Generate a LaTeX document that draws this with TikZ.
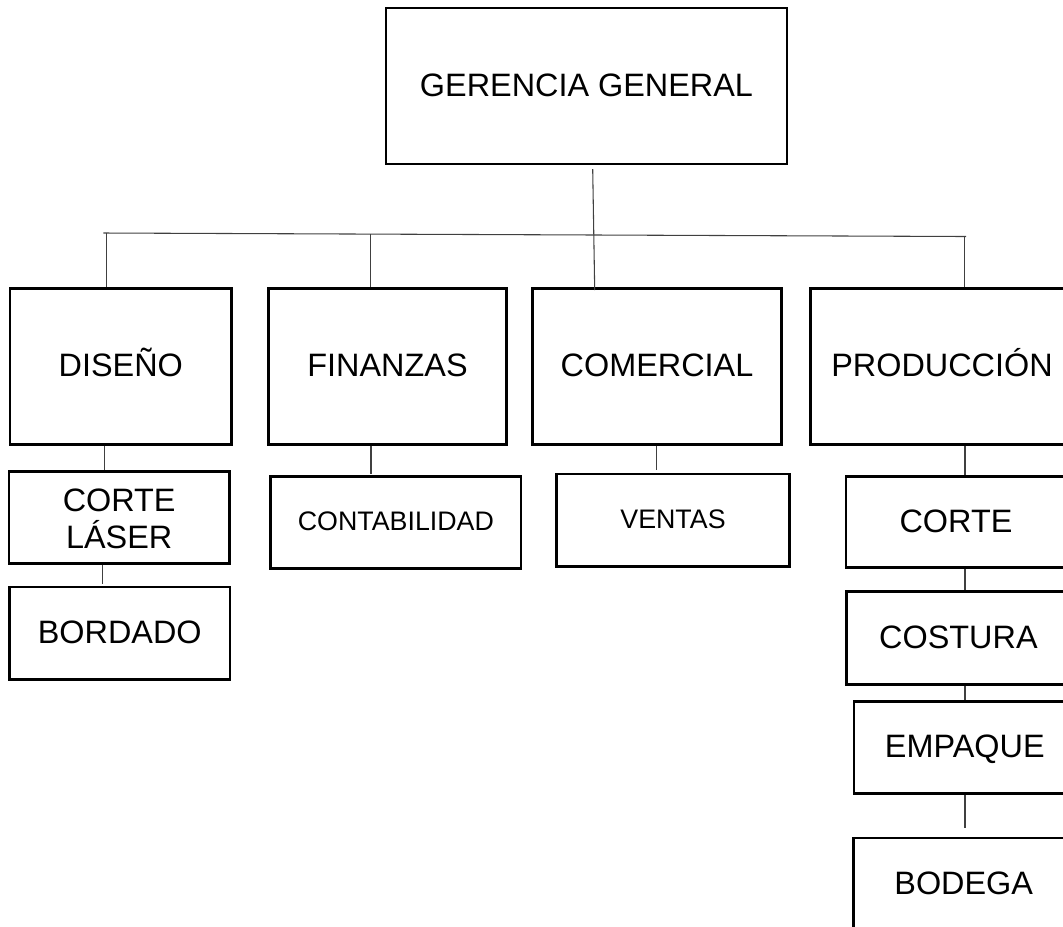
\documentclass[tikz,border=0pt]{standalone}
\usepackage{fontspec}
\setmainfont{Liberation Sans}
\usetikzlibrary{calc}
\newcommand\bigtxt{\fontsize{24.3}{27.5}\selectfont}
\newcommand\smalltxt{\fontsize{20.1}{24}\selectfont}
\tikzset{
  sz/.style 2 args={minimum width=#1*0.75pt, minimum height=#2*0.75pt},
  box/.style={draw=black, line width=1.9pt, rectangle, inner sep=0pt, align=center,
              font=\bigtxt, text height=17.4pt, text depth=2.2pt},
  boxsmall/.style={box, font=\smalltxt, text height=14.4pt, text depth=1.8pt},
  boxtwo/.style={draw=black, line width=1.9pt, rectangle, inner sep=0pt, align=center,
              font=\bigtxt},
  conn/.style={draw=black!75, line width=0.8pt},
}
\begin{document}
\begin{tikzpicture}[x=0.75pt,y=-0.75pt]
\useasboundingbox (0,0) rectangle (1063,926);
\clip (0,0) rectangle (1063,926);
% boxes
\node[box, sz={401}{156}] (gg) at (586.5,86) {GERENCIA GENERAL};
\node[box, sz={221.7}{156}] (dis) at (120.8,366.3) {DISEÑO};
\node[box, sz={238.4}{156}] (fin) at (387.5,366.3) {FINANZAS};
\node[box, sz={249.4}{156}] (com) at (657,366.3) {COMERCIAL};
\node[box, sz={262.6}{156}] (prod) at (942,366.3) {PRODUCCIÓN};
\node[boxtwo, sz={220.3}{91.7}] (cl) at (119.2,517.5) {\rule{0pt}{19pt}CORTE\\LÁSER};
\node[box, sz={220.7}{92.3}] (bor) at (119.7,633.2) {BORDADO};
\node[boxsmall, sz={250.3}{91.6}] (cont) at (395.9,522.5) {CONTABILIDAD};
\node[boxsmall, sz={232.6}{92.7}] (ven) at (673,520.3) {VENTAS};
\node[box, sz={220}{90.6}] (corte) at (956,522) {CORTE};
\node[box, sz={223.3}{93}] (cos) at (958.4,638) {COSTURA};
\node[box, sz={221.6}{91.6}] (emp) at (964.8,747.5) {EMPAQUE};
\node[box, sz={220.7}{92}] (bod) at (963.7,884) {BODEGA};
% connector coordinates
\coordinate (g1) at (592.7,169);
\coordinate (g2) at (594.7,290);
\coordinate (busL) at (103.3,233);
\coordinate (busR) at (966,236.5);
\coordinate (dL) at (106.7,233.1);
\coordinate (fL) at (370.7,234.1);
\coordinate (pL) at (964.5,236.5);
\coordinate (e1) at (104.7,470);
\coordinate (e2) at (102.7,584.3);
\coordinate (e3) at (371,474.3);
\coordinate (e4) at (656.7,470);
\coordinate (e5) at (965,476.7);
\coordinate (e6) at (965,828.3);
% connectors
\draw[conn] (g1) -- (g2);
\draw[conn] (busL) -- (busR);
\draw[conn] (dL) -- (dL |- dis.north);
\draw[conn] (fL) -- (fL |- fin.north);
\draw[conn] (pL) -- (pL |- prod.north);
\draw[conn] (dis.south -| e1) -- (e1);
\draw[conn] (cl.south -| e2) -- (e2);
\draw[conn] (fin.south -| e3) -- (e3);
\draw[conn] (com.south -| e4) -- (e4);
\draw[conn] (prod.south -| e5) -- (e5 |- corte.north);
\draw[conn] (corte.south -| e5) -- (e5 |- cos.north);
\draw[conn] (cos.south -| e5) -- (e5 |- emp.north);
\draw[conn] (emp.south -| e5) -- (e6);
\end{tikzpicture}
\end{document}
